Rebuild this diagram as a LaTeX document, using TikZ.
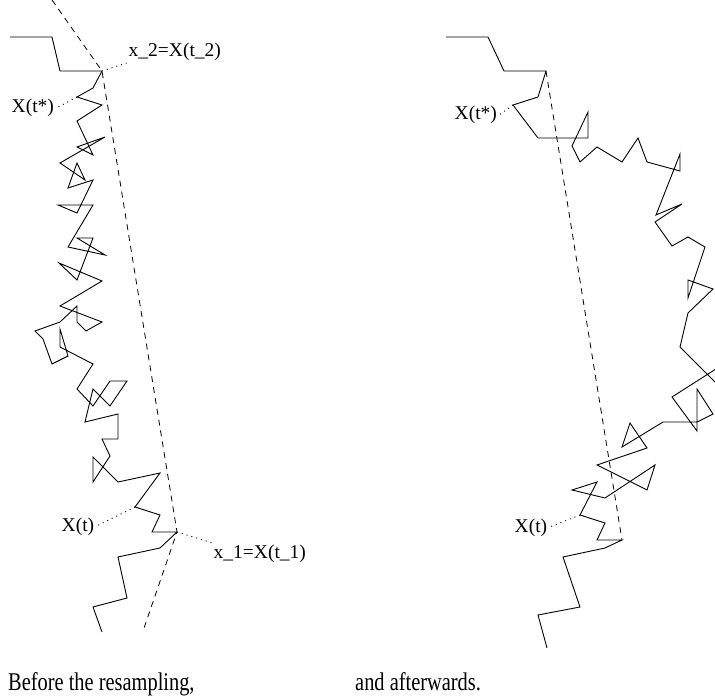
\documentclass[tikz,border=0pt]{standalone}
\usepackage{fontspec}
\setmainfont{Liberation Serif}
\usepackage{graphicx}
\usepackage{tikz}

\begin{document}
\begin{tikzpicture}[x=1pt, y=-1pt,
	walk/.style={line width=0.9pt, line join=miter},
	chord/.style={line width=0.8pt, dash pattern=on 6pt off 5pt},
	pointer/.style={line width=0.9pt, dash pattern=on 1pt off 4pt},
	lbl/.style={font=\fontsize{19.5}{22}\selectfont, inner sep=1.5pt, anchor=base west},
	capt/.style={font=\fontsize{25.5}{28}\selectfont, inner sep=0pt, anchor=base west}]
			\useasboundingbox (0,0) rectangle (715,700);
			\clip (0,0) rectangle (715,700);
			
			% before
			\coordinate (x2) at (102,71); \coordinate (ts) at (77,97);
			\coordinate (t) at (135,507); \coordinate (x1) at (177,532);
			\draw[walk] (10,37) -- (52,37) -- (60,71) -- (x2) -- (93,88) -- (ts) -- (102,105) -- (77,121)
				-- (93,155) -- (77,147) -- (105,137) -- (60,163) -- (85,180) -- (77,163) -- (68,188) -- (93,180)
				-- (77,213) -- (58,205) -- (93,205) -- (68,247) -- (105,255) -- (77,238) -- (93,238) -- (77,280)
				-- (59,263) -- (102,281) -- (60,306) -- (102,322) -- (86,331) -- (77,322) -- (77,306) -- (60,322)
				-- (35,331) -- (43,339) -- (52,364) -- (68,356) -- (60,329) -- (60,347) -- (93,364) -- (77,389)
				-- (93,406) -- (110,381) -- (127,381) -- (110,406) -- (93,389) -- (85,422) -- (118,414) -- (118,439)
				-- (102,439) -- (110,456) -- (93,482) -- (93,457) -- (118,482) -- (160,473) -- (t) -- (160,515)
				-- (152,532) -- (x1) -- (160,548) -- (118,557) -- (127,598) -- (93,607) -- (102,632);
			\draw[chord] (52,0) -- (x2) -- (x1) -- (144,628);
			
			\node[lbl] (x2l) at (127,57) {x\_2=X(t\_2)};
			\node[lbl] (tsl) at (10,113) {X(t*)};
			\node[lbl] (tl) at (60,531) {X(t)};
			\node[lbl] (x1l) at (212,558) {x\_1=X(t\_1)};
			\draw[pointer] (x2) -- (x2l.south west);
			\draw[pointer] (ts) -- (tsl.east);
			\draw[pointer] (t) -- (tl.east);
			\draw[pointer] (x1) -- (x1l.north west);
			
			% after
			\coordinate (rx2) at (546,71); \coordinate (rts) at (513,105);
			\coordinate (rt) at (580,515); \coordinate (rx1) at (622,540);
			\draw[walk] (446,37) -- (488,37) -- (504,71) -- (rx2) -- (538,97) -- (rts) -- (538,138) -- (588,138)
				-- (588,112) -- (572,146) -- (580,162) -- (597,147) -- (622,162) -- (638,138) -- (647,162) -- (680,171)
				-- (680,154) -- (656,215) -- (682,204) -- (655,222) -- (672,246) -- (688,237) -- (705,247) -- (688,298)
				-- (688,280) -- (713,289) -- (688,313) -- (680,347) -- (730,397) -- (730,360) -- (672,397) -- (697,431)
				-- (697,389) -- (713,414) -- (697,422) -- (663,422) -- (622,447) -- (630,423) -- (647,448) -- (597,465)
				-- (647,490) -- (655,465) -- (605,498) -- (572,490) -- (597,482) -- (rt) -- (605,523) -- (597,540)
				-- (rx1) -- (605,548) -- (563,557) -- (580,607) -- (538,615) -- (547,648);
			\draw[chord] (rx2) -- (rx1);
			
			\node[lbl] (rtsl) at (453,120) {X(t*)};
			\node[lbl] (rtl) at (513,532) {X(t)};
			\draw[pointer] (rts) -- (rtsl.east);
			\draw[pointer] (rt) -- (rtl.east);
			
			\node[capt] (before) at (8,690) {\scalebox{0.8}[1]{Before the resampling,}};
			\node[capt] (after) at (355,690) {\scalebox{0.8}[1]{and afterwards.}};
		\end{tikzpicture}
\end{document}
